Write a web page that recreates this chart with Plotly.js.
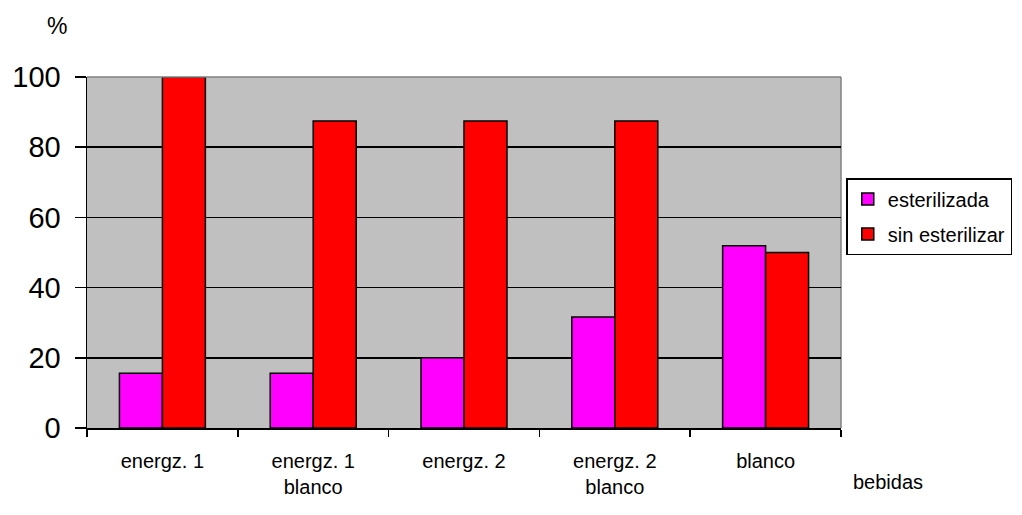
<!DOCTYPE html>
<html>
<head>
<meta charset="utf-8">
<script src="https://cdn.plot.ly/plotly-3.0.1.min.js"></script>
<style>html,body{margin:0;padding:0;background:#fff;}#chart{width:1022px;height:515px;}</style>
</head>
<body>
<div id="chart"></div>
<script>
const categories = ["energz. 1", "energz. 1<br>blanco", "energz. 2", "energz. 2<br>blanco", "blanco"];
const esterilizada = [15.6, 15.6, 20, 31.6, 51.9];
const sinEsterilizar = [100, 87.5, 87.5, 87.5, 50];
const yTicks = [0, 20, 40, 60, 80, 100];

const FONT = "Arial, 'Liberation Sans', sans-serif";

const traces = [
  {type: "bar", name: "esterilizada", x: categories, y: esterilizada, legendgroup: "a",
   marker: {color: "#FF00FF", line: {color: "#000", width: 1.5}}},
  {type: "bar", name: "sin esterilizar", x: categories, y: sinEsterilizar, legendgroup: "b",
   marker: {color: "#FF0000", line: {color: "#000", width: 1.5}}}
];

const layout = {
  width: 1022, height: 515,
  margin: {l: 87, r: 181, t: 77, b: 87, pad: 0, autoexpand: false},
  paper_bgcolor: "#fff",
  plot_bgcolor: "#C0C0C0",
  barmode: "group",
  bargap: 0.43,
  bargroupgap: 0,
  font: {family: FONT, color: "#000"},
  showlegend: true,
  legend: {
    x: 1.007, xanchor: "left", y: 0.712, yanchor: "top",
    bordercolor: "#000", borderwidth: 1.5, bgcolor: "#fff",
    font: {size: 20, family: FONT},
    itemwidth: 30,
    traceorder: "grouped",
    tracegroupgap: 6
  },
  xaxis: {
    type: "category",
    showline: true, linecolor: "#000", linewidth: 1.5,
    ticks: "outside", tickson: "boundaries", ticklen: 7, tickcolor: "#000", tickwidth: 1.5,
    tickfont: {size: 20, family: FONT},
    ticklabelstandoff: 14,
    showgrid: false, zeroline: false,
    fixedrange: true
  },
  yaxis: {
    range: [0, 100],
    tickvals: yTicks,
    ticktext: yTicks.map(String),
    showline: true, linecolor: "#000", linewidth: 1.5,
    ticks: "outside", ticklen: 11, tickcolor: "#000", tickwidth: 1.5,
    tickfont: {size: 29, family: FONT},
    ticklabelstandoff: 8,
    showgrid: true, gridcolor: "#000", gridwidth: 1.5,
    zeroline: false,
    fixedrange: true
  },
  shapes: [
    {type: "line", xref: "paper", yref: "paper", x0: 0, x1: 1, y0: 1, y1: 1,
     line: {color: "#808080", width: 1.5}, layer: "above"},
    {type: "line", xref: "paper", yref: "paper", x0: 1, x1: 1, y0: 0, y1: 1,
     line: {color: "#808080", width: 1.5}, layer: "below"}
  ],
  annotations: [
    {text: "%", xref: "paper", yref: "paper", x: -0.04, y: 1.145,
     xanchor: "center", yanchor: "middle", showarrow: false,
     font: {size: 23, family: FONT}},
    {text: "bebidas", xref: "paper", yref: "paper", x: 1.062, y: -0.153,
     xanchor: "center", yanchor: "middle", showarrow: false,
     font: {size: 20, family: FONT}}
  ]
};

Plotly.newPlot("chart", traces, layout, {displayModeBar: false, staticPlot: true});
</script>
</body>
</html>
